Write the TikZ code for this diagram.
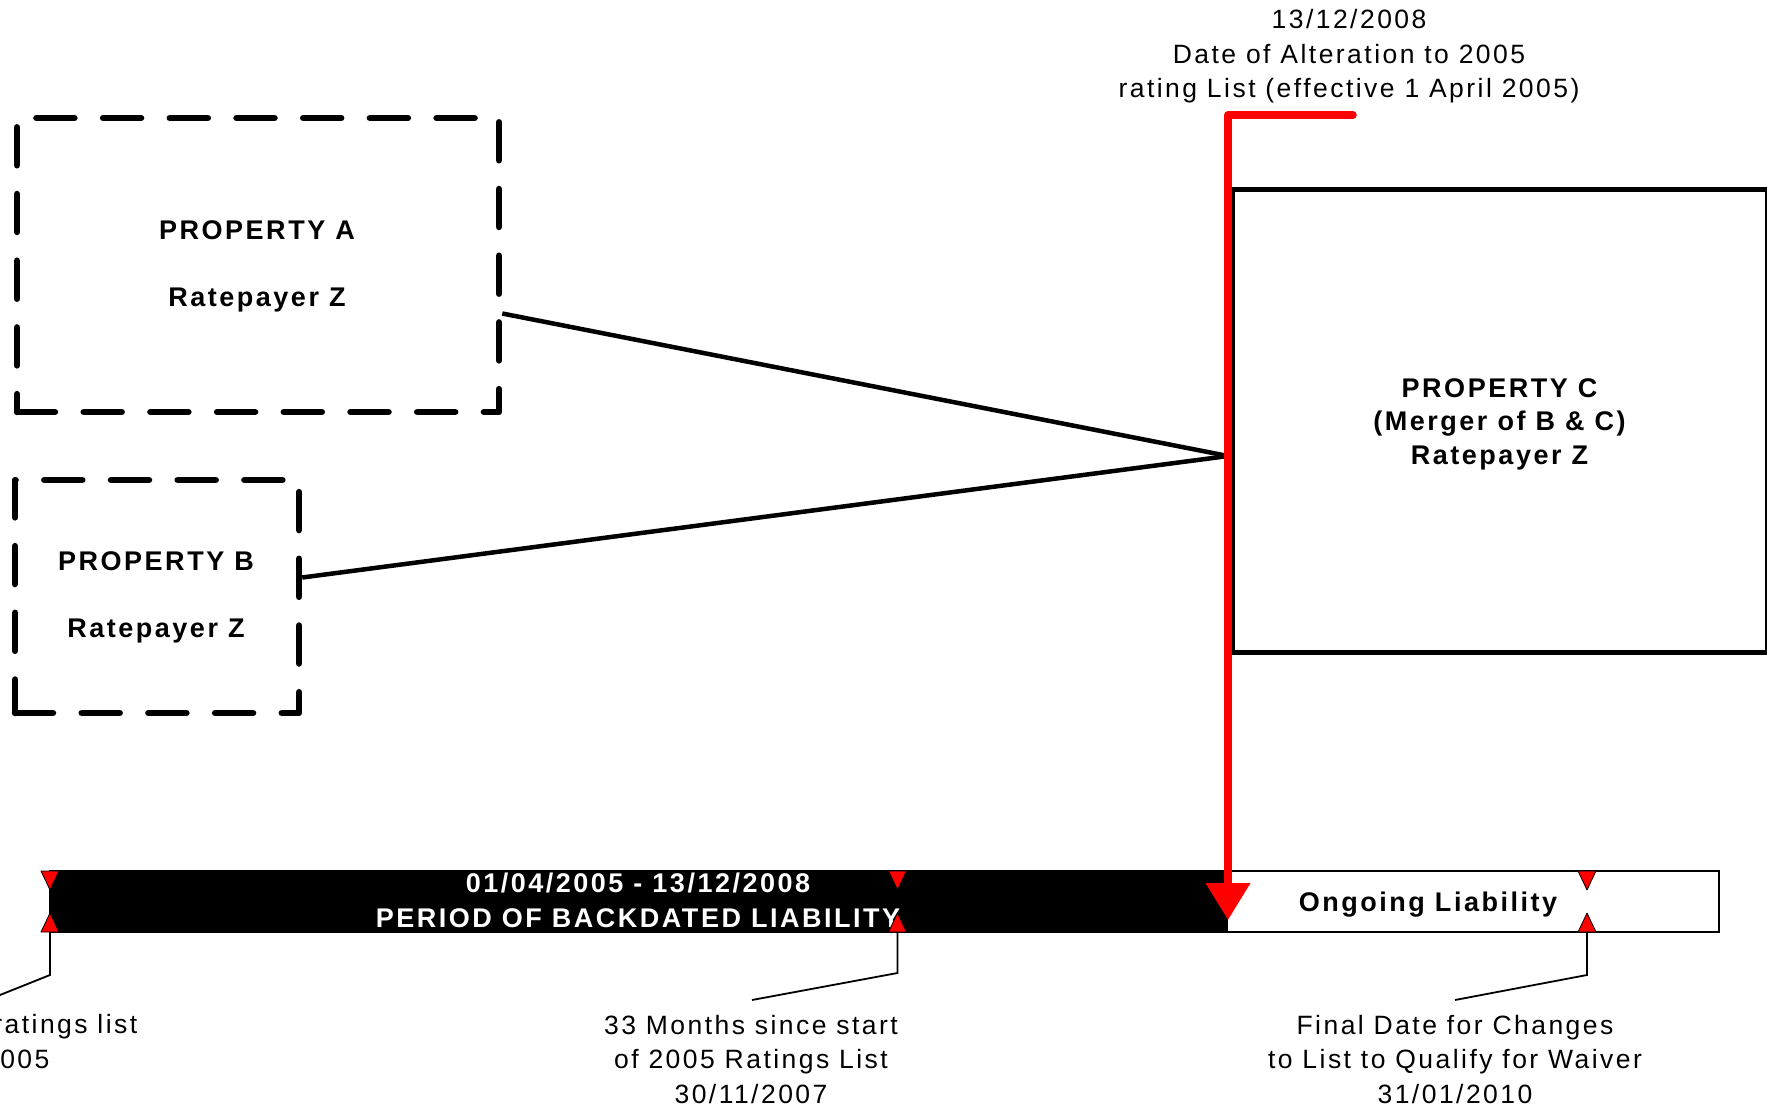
\documentclass[tikz,border=0pt]{standalone}
\usepackage{fontspec}
\setmainfont{Liberation Sans}[LetterSpace=9.3]
\usetikzlibrary{arrows.meta}
\begin{document}
\begin{tikzpicture}[x=1pt,y=-1pt,
  dashbox/.style={draw, line width=6.5pt, dash pattern=on 38pt off 28.7pt, line cap=round, line join=round, inner sep=0pt},
  solidbox/.style={draw, line width=5pt, inner sep=0pt},
  conn/.style={line width=4.5pt},
  leader/.style={line width=1.8pt},
  redline/.style={draw=red, line width=7.5pt, line join=round, line cap=round, -{Triangle[width=43pt,length=37pt]}, red},
  redtri/.style={fill=red, draw=black, line width=0.8pt, line join=round},
  bodytxt/.style={font=\fontsize{26.5}{34.4}\selectfont, align=center, inner sep=0pt},
  boldtxt/.style={font=\fontsize{27}{33.5}\selectfont\bfseries, align=center, inner sep=0pt}
]
\useasboundingbox (0,0) rectangle (1767,1110);

% Property boxes
\node[dashbox, minimum width=482pt, minimum height=294pt] (A) at (258,265) {};
\node[boldtxt] (Atxt) at (257,266) {PROPERTY A\\[33.5pt]Ratepayer Z};
\node[dashbox, minimum width=284pt, minimum height=233pt] (B) at (157,596.5) {};
\node[boldtxt] (Btxt) at (156,597) {PROPERTY B\\[33.5pt]Ratepayer Z};
\node[solidbox, minimum width=535pt, minimum height=462pt] (C) at (1499.5,421) {};
\node[boldtxt] (Ctxt) at (1499.5,424) {PROPERTY C\\(Merger of B \& C)\\Ratepayer Z};

% merge connectors
\coordinate (meet) at (1228,456);
\draw[conn] ([yshift=-48.5pt]A.east) -- (meet);
\draw[conn] ([yshift=19pt]B.east) -- (meet);

% timeline bar
\node[draw, line width=2.5pt, fill=white, minimum width=1669pt, minimum height=61pt, inner sep=0pt] (bar) at (884.5,901.5) {};
\node[fill=black, minimum width=1178pt, minimum height=61pt, inner sep=0pt] (backdated) at (639,901.5) {};
\node[boldtxt, text=white, font=\fontsize{27}{35}\selectfont\bfseries] (period) at (638,900.5) {01/04/2005 - 13/12/2008\\PERIOD OF BACKDATED LIABILITY};
\node[boldtxt, anchor=base] (ongoing) at (1428,911) {Ongoing Liability};

% markers
\foreach \x/\n in {50/m1, 897.5/m2, 1587/m3} {
  \draw[redtri] (\x-9,871) -- (\x+9,871) -- (\x,890) -- cycle;
  \draw[redtri] (\x-9,932) -- (\x+9,932) -- (\x,913) -- cycle;
  \coordinate (\n) at (\x,932);
}

% alteration date
\node[bodytxt] (altlab) at (1349,56.5) {13/12/2008\\Date of Alteration to 2005\\rating List (effective 1 April 2005)};
\coordinate (alt) at (1353,115);
\coordinate (altc) at (1228,115);
\coordinate (tip) at (1228,920);
\draw[redline] (alt) -- (altc) -- (tip);

% bottom labels
\node[bodytxt, anchor=base east] (lab1a) at (137.5,1033) {ratings list};
\node[bodytxt, anchor=base east] (lab1b) at (49.6,1068) {005};
\node[bodytxt] (lab2) at (751,1059.5) {33 Months since start\\of 2005 Ratings List\\30/11/2007};
\node[bodytxt] (lab3) at (1455,1059.5) {Final Date for Changes\\to List to Qualify for Waiver\\31/01/2010};

\coordinate (l1end) at (-25,1005);
\coordinate (l2end) at (752,1000);
\coordinate (l3end) at (1455,1000);
\draw[leader] (m1) -- ++(0,43) -- (l1end);
\draw[leader] (m2) -- ++(0,41) -- (l2end);
\draw[leader] (m3) -- ++(0,43) -- (l3end);
\end{tikzpicture}
\end{document}
